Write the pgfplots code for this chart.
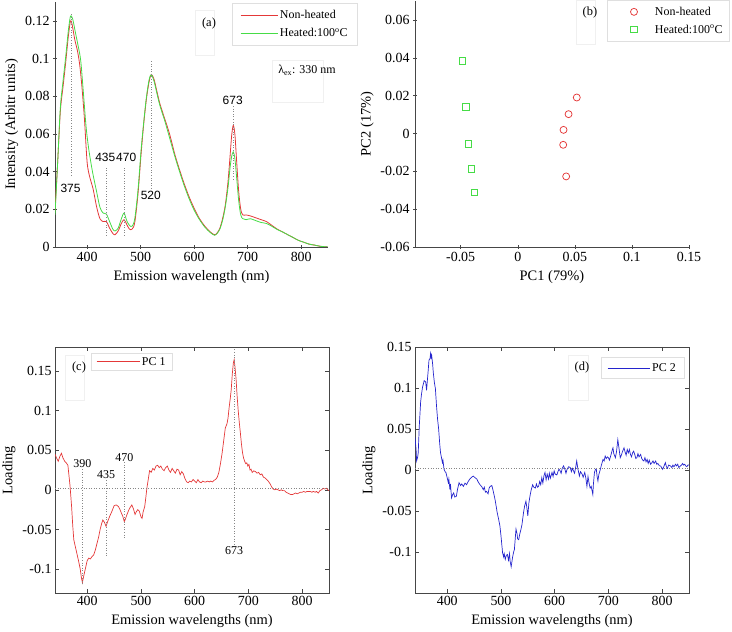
\documentclass[border=0pt]{standalone}
\usepackage{fontspec}
\setmainfont{Liberation Serif}
\newfontfamily\arialf{Liberation Sans}
\usepackage{pgfplots}
\pgfplotsset{compat=1.18}
\definecolor{cred}{RGB}{228,56,56}
\definecolor{cgreen}{RGB}{70,220,70}
\definecolor{cblue}{RGB}{36,36,205}
\definecolor{axgray}{RGB}{70,70,70}
\definecolor{dotgray}{RGB}{135,135,135}
\pgfplotsset{
  every axis/.append style={
    scale only axis,
    scaled ticks=false,
    tick align=inside,
    axis line style={axgray},
    tick style={axgray, line width=0.5bp},
    major tick length=4bp,
    ticklabel style={font=\fontsize{14}{16}\selectfont},
    label style={font=\fontsize{14.5}{17}\selectfont},
    xlabel style={yshift=-2bp},
    /pgf/number format/assume math mode=true,
    xmin=340, xmax=850,
  },
}
\begin{document}
\begin{tikzpicture}
\useasboundingbox (0,0) rectangle (732bp,632bp);
% faint text boxes
\draw[gray!12, line width=0.4bp] (195bp,577bp) rectangle (214bp,622bp);
\draw[gray!12, line width=0.4bp] (272bp,530bp) rectangle (323bp,572bp);
\draw[gray!12, line width=0.4bp] (576bp,588bp) rectangle (595bp,632bp);
\draw[gray!12, line width=0.4bp] (65bp,232bp) rectangle (84bp,277bp);
\draw[gray!12, line width=0.4bp] (568bp,232bp) rectangle (588bp,277bp);

% ---------------- (a)
\begin{axis}[at={(55bp,385bp)}, anchor=south west, width=273bp, height=245bp,
  axis lines=left, axis line style={-, axgray},
  ymin=0, ymax=0.13,
  xtick={400,500,600,700,800}, xticklabels={400,500,600,700,800},
  ytick={0,0.02,0.04,0.06,0.08,0.1,0.12}, yticklabels={0,0.02,0.04,0.06,0.08,0.1,0.12},
  xlabel={Emission wavelength (nm)}, ylabel={Intensity (Arbitr units)},
  legend image code/.code={\draw[#1, line width=0.9bp] (0bp,0bp) -- (37bp,0bp);},
  legend style={at={(0.648,0.995)}, anchor=north west, draw=gray!25, font=\fontsize{12}{14}\selectfont, cells={anchor=west}, row sep=4bp, inner xsep=8bp, inner ysep=5bp},
]
\addplot[draw=cred, color=cred, line width=0.8bp, smooth] coordinates {
(340,0.019)(345,0.045)(350,0.072)(355,0.085)(360,0.098)(365,0.112)(369,0.120)(372,0.118)(377,0.110)(382,0.104)(386,0.097)(390,0.086)(395,0.068)(400,0.045)(405,0.037)(411,0.031)(418,0.021)(424,0.015)(430,0.0135)(436,0.0135)(442,0.010)(448,0.0072)(452,0.0065)(458,0.0085)(464,0.0125)(469,0.0145)(474,0.012)(479,0.0095)(484,0.0095)(489,0.013)(495,0.028)(501,0.050)(506,0.066)(511,0.079)(516,0.088)(520,0.0915)(525,0.089)(530,0.083)(536,0.076)(545,0.068)(554,0.060)(565,0.048)(579,0.0355)(590,0.027)(600,0.0205)(610,0.015)(620,0.011)(630,0.008)(638,0.0065)(643,0.0075)(648,0.010)(653,0.015)(658,0.022)(663,0.034)(667,0.048)(670,0.059)(673,0.0645)(676,0.060)(679,0.047)(683,0.030)(687,0.020)(691,0.017)(697,0.017)(705,0.0165)(715,0.0155)(725,0.0145)(735,0.0135)(745,0.0115)(755,0.0095)(765,0.008)(775,0.0065)(785,0.005)(795,0.0035)(805,0.0025)(815,0.0015)(825,0.001)(835,0.0004)(850,0)};
\addlegendentry{Non-heated}
\addplot[draw=cgreen, color=cgreen, line width=0.8bp, smooth] coordinates {
(340,0.017)(345,0.045)(350,0.074)(355,0.088)(360,0.101)(365,0.115)(369,0.1225)(373,0.121)(378,0.114)(383,0.107)(388,0.099)(393,0.082)(398,0.064)(403,0.052)(410,0.040)(418,0.029)(424,0.021)(430,0.018)(436,0.0175)(442,0.0135)(448,0.0095)(452,0.0085)(458,0.010)(464,0.015)(469,0.018)(474,0.014)(479,0.0115)(484,0.011)(489,0.015)(495,0.030)(501,0.052)(506,0.067)(511,0.080)(516,0.089)(520,0.0915)(525,0.088)(530,0.082)(536,0.075)(545,0.067)(554,0.058)(565,0.047)(579,0.0345)(590,0.026)(600,0.0195)(610,0.0145)(620,0.0105)(630,0.0077)(638,0.0062)(643,0.0072)(648,0.0095)(653,0.014)(658,0.021)(663,0.031)(667,0.042)(670,0.048)(673,0.0505)(676,0.047)(679,0.038)(683,0.025)(687,0.017)(691,0.015)(697,0.0145)(705,0.015)(715,0.014)(725,0.013)(735,0.0125)(745,0.011)(755,0.0093)(765,0.008)(775,0.0065)(785,0.005)(795,0.0035)(805,0.0025)(815,0.0015)(825,0.001)(835,0.0004)(850,0)};
\addlegendentry{Heated:100\textsuperscript{o}C}
\draw[dotgray, dotted, line width=0.6bp] (axis cs:370,0.038) -- (axis cs:370,0.124);
\draw[dotgray, dotted, line width=0.6bp] (axis cs:436,0.006) -- (axis cs:436,0.043);
\draw[dotgray, dotted, line width=0.6bp] (axis cs:469,0.006) -- (axis cs:469,0.043);
\draw[dotgray, dotted, line width=0.6bp] (axis cs:520,0.031) -- (axis cs:520,0.099);
\draw[dotgray, dotted, line width=0.6bp] (axis cs:673,0.036) -- (axis cs:673,0.075);
\node[font=\arialf\fontsize{12}{14}\selectfont] at (axis cs:369,0.031) {375};
\node[font=\arialf\fontsize{12}{14}\selectfont] at (axis cs:434,0.0475) {435};
\node[font=\arialf\fontsize{12}{14}\selectfont] at (axis cs:473,0.0475) {470};
\node[font=\arialf\fontsize{12}{14}\selectfont] at (axis cs:519,0.0275) {520};
\node[font=\arialf\fontsize{12}{14}\selectfont] at (axis cs:672,0.078) {673};
\end{axis}
\node[font=\fontsize{12.5}{14}\selectfont] at (209bp,608bp) {(a)};
\node[font=\fontsize{12}{14}\selectfont] at (307bp,562bp) {λ\textsubscript{ex}: 330 nm};

% ---------------- (b)
\begin{axis}[at={(415bp,385bp)}, anchor=south west, width=274bp, height=246bp,
  axis lines=left, axis line style={-, axgray},
  xmin=-0.09, xmax=0.15, ymin=-0.06, ymax=0.07,
  xtick={-0.05,0,0.05,0.1,0.15}, xticklabels={-0.05,0,0.05,0.1,0.15},
  ytick={-0.06,-0.04,-0.02,0,0.02,0.04,0.06}, yticklabels={-0.06,-0.04,-0.02,0,0.02,0.04,0.06},
  xlabel={PC1 (79\%)}, ylabel={PC2 (17\%)},
  legend image code/.code={\path[draw=none, fill=none] (0bp,-3bp) rectangle (30bp,3bp); \draw[#1] plot coordinates {(22bp,0bp)};},
  legend style={at={(0.70,1.005)}, anchor=north west, draw=gray!25, font=\fontsize{12}{14}\selectfont, cells={anchor=west}, row sep=4bp, inner xsep=5bp, inner ysep=5bp},
]
\addplot[only marks, mark=o, mark size=3.5bp, draw=cred, color=cred, mark options={line width=0.75bp}] coordinates {
(0.0517,0.019)(0.0445,0.0102)(0.0401,0.0019)(0.0398,-0.006)(0.0424,-0.0227)};
\addlegendentry{\hspace{11bp}Non-heated}
\addplot[only marks, mark=square, mark size=3.2bp, draw=cgreen, color=cgreen, mark options={line width=0.75bp}] coordinates {
(-0.0485,0.0384)(-0.0456,0.0141)(-0.0433,-0.0056)(-0.0407,-0.0188)(-0.0378,-0.031)};
\addlegendentry{\hspace{11bp}Heated:100\textsuperscript{o}C}
\end{axis}
\node[font=\fontsize{12.5}{14}\selectfont] at (590bp,619bp) {(b)};

% ---------------- (c)
\begin{axis}[at={(55bp,39bp)}, anchor=south west, width=274bp, height=246bp,
  ymin=-0.13, ymax=0.18,
  xtick={400,500,600,700,800}, xticklabels={400,500,600,700,800},
  ytick={-0.1,-0.05,0,0.05,0.1,0.15}, yticklabels={-0.1,-0.05,0,0.05,0.1,0.15},
  xlabel={Emission wavelengths (nm)}, ylabel={Loading},
  legend image code/.code={\draw[#1, line width=0.9bp] (0bp,0bp) -- (43bp,0bp);},
  legend style={at={(0.131,0.976)}, anchor=north west, draw=gray!25, font=\fontsize{12}{14}\selectfont, cells={anchor=west}, inner xsep=5bp},
]
\addplot[draw=cred, color=cred, line width=0.7bp] coordinates {
(340,0.045)(343,0.040)(346,0.036)(349,0.042)(352,0.046)(355,0.040)(358,0.036)(361,0.034)(364,0.031)(366,0.018)(368,0.005)(371,-0.022)(373,-0.045)(375,-0.063)(378,-0.072)(381,-0.081)(384,-0.090)(387,-0.100)(389,-0.110)(391,-0.117)(393,-0.110)(395,-0.104)(397,-0.098)(400,-0.089)(403,-0.086)(406,-0.087)(409,-0.084)(412,-0.082)(415,-0.076)(418,-0.068)(421,-0.060)(424,-0.050)(427,-0.042)(429,-0.038)(432,-0.041)(435,-0.046)(438,-0.040)(442,-0.033)(446,-0.027)(450,-0.020)(454,-0.019)(458,-0.021)(461,-0.025)(464,-0.030)(466,-0.033)(469,-0.040)(471,-0.037)(474,-0.031)(477,-0.026)(480,-0.022)(483,-0.019)(486,-0.024)(489,-0.031)(491,-0.028)(494,-0.025)(497,-0.027)(500,-0.034)(502,-0.036)(504,-0.028)(507,-0.021)(509,-0.010)(511,0.002)(514,0.015)(516,0.024)(519,0.022)(522,0.027)(525,0.025)(528,0.030)(531,0.031)(534,0.028)(537,0.030)(540,0.026)(543,0.024)(546,0.028)(549,0.030)(552,0.025)(555,0.022)(558,0.027)(561,0.024)(564,0.021)(567,0.026)(570,0.025)(573,0.019)(576,0.023)(579,0.020)(582,0.014)(585,0.010)(588,0.009)(591,0.011)(594,0.010)(597,0.013)(600,0.011)(603,0.009)(606,0.013)(609,0.010)(612,0.009)(615,0.011)(618,0.010)(621,0.010)(624,0.011)(627,0.010)(630,0.011)(633,0.010)(636,0.012)(639,0.013)(642,0.016)(645,0.022)(648,0.033)(651,0.046)(654,0.062)(657,0.078)(660,0.083)(662,0.090)(664,0.103)(666,0.114)(668,0.126)(670,0.146)(672,0.160)(673.5,0.164)(675,0.155)(677,0.140)(679,0.118)(681,0.100)(683,0.085)(685,0.072)(687,0.058)(689,0.047)(691,0.040)(693,0.036)(695,0.033)(697,0.034)(699,0.030)(701,0.032)(703,0.025)(705,0.026)(707,0.022)(710,0.024)(713,0.023)(716,0.021)(719,0.022)(722,0.019)(725,0.020)(728,0.016)(731,0.015)(734,0.013)(737,0.011)(740,0.008)(743,0.004)(746,0.001)(749,0.000)(752,0.001)(755,0.000)(758,-0.001)(761,0.000)(764,-0.001)(767,-0.001)(770,-0.003)(773,-0.004)(776,-0.005)(779,-0.006)(782,-0.006)(785,-0.005)(788,-0.004)(791,-0.005)(794,-0.004)(797,-0.003)(800,-0.003)(803,-0.002)(806,-0.003)(809,-0.002)(812,-0.002)(815,-0.002)(818,-0.003)(821,-0.002)(824,-0.003)(827,-0.002)(830,-0.004)(833,-0.001)(836,0.000)(839,0.002)(842,0.001)(845,0.002)(848,0.000)(850,-0.001)};
\addlegendentry{PC 1}
\draw[dotgray, dotted, line width=0.6bp] (axis cs:340,0.002) -- (axis cs:850,0.002);
\draw[dotgray, dotted, line width=0.6bp] (axis cs:391,0.026) -- (axis cs:391,-0.121);
\draw[dotgray, dotted, line width=0.6bp] (axis cs:435,0.012) -- (axis cs:435,-0.083);
\draw[dotgray, dotted, line width=0.6bp] (axis cs:469,0.035) -- (axis cs:469,-0.061);
\draw[dotgray, dotted, line width=0.6bp] (axis cs:673.5,0.177) -- (axis cs:673.5,-0.071);
\node[font=\fontsize{12}{14}\selectfont] at (axis cs:391,0.033) {390};
\node[font=\fontsize{12}{14}\selectfont] at (axis cs:435,0.019) {435};
\node[font=\fontsize{12}{14}\selectfont] at (axis cs:469,0.041) {470};
\node[font=\fontsize{12}{14}\selectfont] at (axis cs:673.5,-0.077) {673};
\end{axis}
\node[font=\fontsize{12.5}{14}\selectfont] at (79bp,264bp) {(c)};

% ---------------- (d)
\begin{axis}[at={(415bp,39bp)}, anchor=south west, width=274bp, height=246bp,
  ymin=-0.15, ymax=0.15,
  xtick={400,500,600,700,800}, xticklabels={400,500,600,700,800},
  ytick={-0.1,-0.05,0,0.05,0.1,0.15}, yticklabels={-0.1,-0.05,0,0.05,0.1,0.15},
  xlabel={Emission wavelengths (nm)}, ylabel={Loading},
  legend image code/.code={\draw[#1, line width=0.9bp] (0bp,0bp) -- (42bp,0bp);},
  legend style={at={(0.679,0.959)}, anchor=north west, draw=gray!25, font=\fontsize{12}{14}\selectfont, cells={anchor=west}, inner xsep=6bp, inner ysep=4bp},
]
\addplot[draw=cblue, color=cblue, line width=0.7bp] coordinates {
(340,0.040)(342,0.025)(343,0.011)(345,0.016)(346,0.021)(348,0.054)(350.5,0.083)(352,0.092)(354,0.101)(356,0.106)(357,0.109)(359,0.108)(360,0.107)(361.5,0.097)(363,0.109)(365,0.125)(366,0.134)(368,0.136)(369,0.142)(370,0.137)(371,0.140)(373,0.128)(374,0.119)(376,0.107)(378,0.099)(380,0.0785)(382,0.062)(384,0.050)(386,0.032)(387.5,0.021)(389,0.016)(391,0.009)(392,0.012)(394,0.001)(396,-0.002)(397.5,-0.003)(399,-0.007)(402,-0.0155)(403,-0.011)(405,-0.024)(406,-0.017)(408,-0.034)(410,-0.030)(412,-0.028)(414,-0.033)(417,-0.032)(419,-0.024)(422,-0.0155)(425,-0.019)(427,-0.017)(430,-0.020)(433,-0.016)(436,-0.018)(439,-0.014)(442,-0.011)(445,-0.009)(448.5,-0.0074)(451,-0.009)(455,-0.011)(458,-0.015)(461,-0.018)(464,-0.020)(467,-0.024)(469,-0.021)(471,-0.027)(473,-0.026)(476,-0.029)(478,-0.022)(480,-0.020)(483,-0.019)(485,-0.024)(487,-0.030)(489,-0.036)(491,-0.044)(493,-0.052)(495,-0.058)(498,-0.068)(500,-0.080)(503,-0.101)(505,-0.106)(506,-0.102)(508,-0.109)(510,-0.104)(512,-0.103)(514,-0.110)(516,-0.102)(517,-0.111)(519,-0.118)(521,-0.109)(522,-0.105)(524,-0.099)(525,-0.097)(527,-0.080)(528,-0.072)(530,-0.078)(531,-0.084)(533,-0.085)(535,-0.078)(537,-0.073)(539,-0.067)(542,-0.052)(544,-0.044)(546.5,-0.038)(548,-0.045)(550,-0.056)(552,-0.040)(554,-0.0319)(556,-0.025)(559,-0.018)(561,-0.021)(564,-0.022)(566,-0.017)(568,-0.021)(570,-0.020)(572,-0.014)(574,-0.018)(576,-0.0094)(578,-0.016)(580,-0.007)(582,-0.003)(584,-0.012)(586,-0.005)(588.5,-0.011)(590,-0.004)(592,-0.010)(595,-0.003)(597,-0.008)(599,-0.001)(601,-0.005)(604,-0.006)(606,-0.002)(608,0.001)(610,-0.001)(612,-0.004)(614,0.002)(616.5,0.005)(619,0.001)(621,-0.004)(623,0.0008)(626,0.004)(629,0.003)(631,-0.002)(633,0.002)(635,-0.001)(637,-0.004)(639,0.003)(641,0.011)(643,0.002)(646,-0.0074)(648,-0.002)(651,-0.005)(653,-0.009)(656,-0.003)(658,-0.010)(660,-0.020)(662,-0.008)(664,-0.016)(666,-0.022)(668,-0.020)(671,-0.030)(672,-0.018)(674,-0.003)(676,0.001)(677.5,0.0008)(679,-0.008)(680.5,-0.0135)(682,-0.006)(685,0.0008)(687,0.006)(690,0.013)(692,0.011)(694,0.017)(696,0.014)(698,0.016)(700,0.015)(702,0.012)(705,0.019)(707,0.024)(708.5,0.027)(710,0.020)(713,0.015)(715,0.022)(717.5,0.037)(719,0.030)(722,0.015)(724,0.018)(726,0.022)(729,0.027)(731,0.022)(733,0.018)(735,0.025)(737,0.021)(739,0.025)(741,0.019)(743,0.016)(745,0.021)(747,0.023)(749,0.019)(751,0.014)(753,0.015)(755,0.020)(757,0.016)(760,0.019)(762,0.014)(764,0.012)(766,0.011)(768,0.015)(770,0.010)(772,0.013)(774,0.008)(776,0.012)(778.5,0.007)(781,0.009)(783,0.011)(785,0.008)(788,0.011)(790,0.007)(792,0.008)(795,0.005)(797,0.005)(799,0.003)(801,0.0008)(803,0.004)(806,0.009)(808,0.004)(810,0.002)(812,0.006)(815.5,0.005)(818,0.003)(820,0.006)(822,0.004)(825,0.007)(827,0.005)(829,0.007)(831,0.003)(834,0.005)(836,0.006)(838,0.008)(840,0.006)(842,0.007)(844,0.005)(846,0.004)(848,0.006)(850,0.006)};
\addlegendentry{PC 2}
\draw[dotgray, dotted, line width=0.6bp] (axis cs:340,0.002) -- (axis cs:850,0.002);
\end{axis}
\node[font=\fontsize{12.5}{14}\selectfont] at (582bp,264bp) {(d)};
\end{tikzpicture}
\end{document}
